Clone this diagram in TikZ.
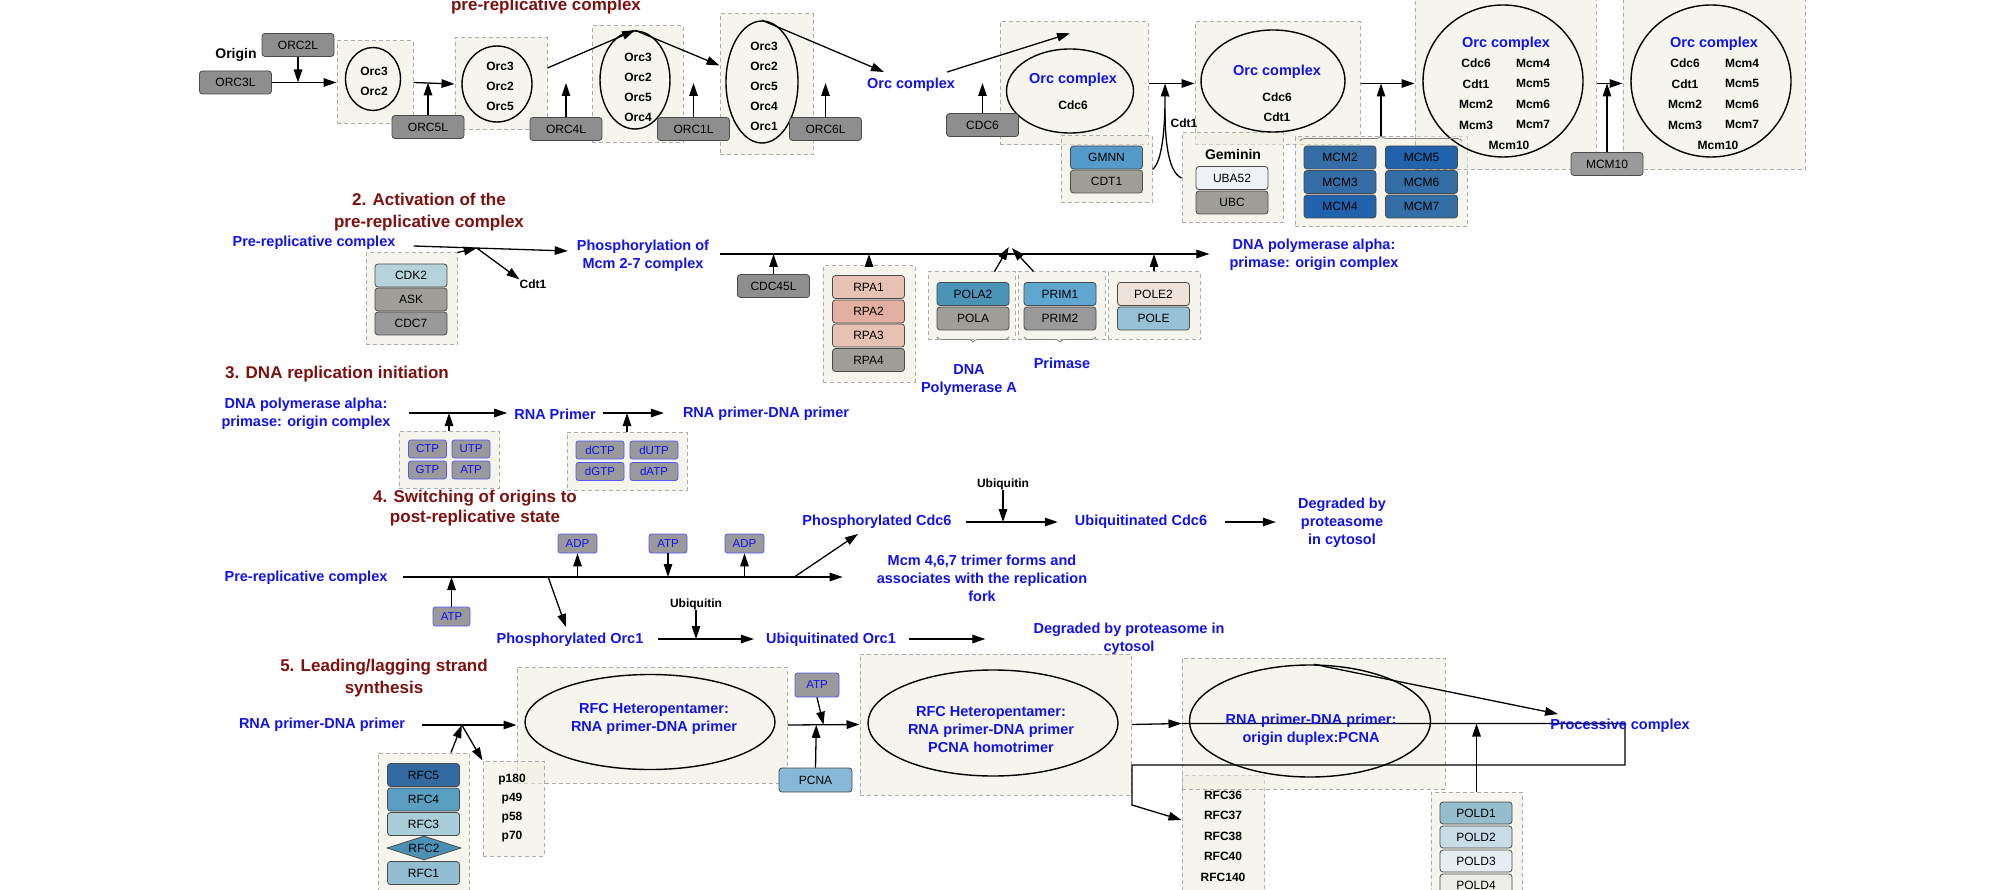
\documentclass[tikz,border=0pt]{standalone}
\usepackage{fontspec}
\setmainfont{Liberation Sans}
\usetikzlibrary{arrows.meta,shapes.geometric,fit,decorations.pathreplacing}
\definecolor{cBlue}{HTML}{1212EE}
\definecolor{cRed}{HTML}{7E1010}
\definecolor{cGrp}{HTML}{EDEDDF}
\definecolor{cDash}{HTML}{ABABAB}
\definecolor{cEdge}{HTML}{4A4A4A}
\definecolor{gOrc}{HTML}{8E8E8E}
\definecolor{gWarm}{HTML}{A09F97}
\definecolor{gMid}{HTML}{9A9A9A}
\definecolor{cGMNN}{HTML}{559BC9}
\definecolor{cUBA}{HTML}{EEF2F6}
\definecolor{cMcmA}{HTML}{346DA6}
\definecolor{cMcmB}{HTML}{2062AC}
\definecolor{cCDK}{HTML}{B6D3DC}
\definecolor{cRPAa}{HTML}{E7C1B3}
\definecolor{cRPAb}{HTML}{E2B0A0}
\definecolor{cPOLA}{HTML}{4C93B8}
\definecolor{cPRIM}{HTML}{5FA6D0}
\definecolor{cPOLEb}{HTML}{EEE1D8}
\definecolor{cPOLE}{HTML}{98C0D6}
\definecolor{cMolE}{HTML}{5555FF}
\definecolor{cRFCv}{HTML}{3169A1}
\definecolor{cRFCiv}{HTML}{5A9EC1}
\definecolor{cRFCiii}{HTML}{A9CDD9}
\definecolor{cRFCii}{HTML}{4A91B6}
\definecolor{cRFCi}{HTML}{93BED1}
\definecolor{cPCNA}{HTML}{88B8D8}
\definecolor{cPDa}{HTML}{96BDCC}
\definecolor{cPDb}{HTML}{C8DCE8}
\definecolor{cPDc}{HTML}{E6EEF2}
\definecolor{cPDd}{HTML}{EEEEE8}
\begin{document}
\begin{tikzpicture}[x=1pt,y=-1pt,
  lbl/.style={font=\fontsize{14.5}{18}\selectfont\bfseries, text=cBlue, align=center, inner sep=0pt},
  ttl/.style={font=\fontsize{17}{22}\selectfont\bfseries, text=cRed, align=center, inner sep=0pt},
  blk/.style={font=\fontsize{12}{20}\selectfont\bfseries, align=center, inner sep=0pt},
  gene/.style={draw=cEdge, line width=0.8pt, rounded corners=3pt, minimum width=72pt, minimum height=23pt, inner sep=0pt, font=\fontsize{12}{14}\selectfont},
  mol/.style={draw=cMolE, line width=0.8pt, fill=gMid, rounded corners=2.5pt, text=cBlue, minimum width=38pt, minimum height=18pt, inner sep=0pt, font=\fontsize{11.5}{13}\selectfont},
  grp/.style={draw=cDash, dash pattern=on 4pt off 3pt, line width=1pt, fill=cGrp, fill opacity=0.55, inner sep=0pt},
  ell/.style={ellipse, draw, line width=1.4pt, inner sep=0pt},
  arr/.style={-{Triangle[length=13pt,width=8.5pt]}, line width=1.3pt},
  ln/.style={line width=1.3pt},
  brc/.style={decorate, decoration={brace, amplitude=5pt}, draw=gray, line width=0.8pt}
]
\useasboundingbox (0,0) rectangle (1996,890);
\coordinate (y83) at (0,83);
% ================= Section 1 =================
\node[grp, fit={(337,41)(413,124)}] (b1) {};
\node[grp, fit={(455,38)(547,130)}] (b2) {};
\node[grp, fit={(592,26)(683,143)}] (b3) {};
\node[grp, fit={(720,14)(813,155)}] (b4) {};
\node[grp, fit={(1000,22)(1148,145)}] (b5) {};
\node[grp, fit={(1061,136)(1152,203)}] (bgm) {};
\node[grp, fit={(1195,22)(1360,145)}] (b7) {};
\node[grp, fit={(1182,133)(1283,223)}] (bgem) {};
\node[grp, fit={(1295,137)(1467,227)}] (bmcm) {};
\node[grp, fit={(1415,-3)(1596,170)}] (b8) {};
\node[grp, fit={(1623,-3)(1805,170)}] (b9) {};

\node[ell, minimum width=55pt, minimum height=63pt] (e1) at (373,79) {};
\node[ell, minimum width=70pt, minimum height=76pt] (e2) at (497,84) {};
\node[ell, minimum width=70pt, minimum height=98pt] (e3) at (635,80) {};
\node[ell, minimum width=72pt, minimum height=122pt] (e4) at (762,82) {};
\node[ell, minimum width=127pt, minimum height=84pt] (e5) at (1070,91) {};
\node[ell, minimum width=144pt, minimum height=102pt] (e6) at (1273,81) {};
\node[ell, minimum width=160pt, minimum height=152pt] (e8) at (1503,81) {};
\node[ell, minimum width=160pt, minimum height=152pt] (e9) at (1711,81) {};

\node[ttl] (t1) at (546,6) {pre-replicative complex};
\node[blk, font=\fontsize{14}{16}\selectfont\bfseries] (origin) at (236,55) {Origin};
\node[blk] (e1t) at (374,81) {Orc3\\Orc2};
\node[blk] (e2t) at (500,86) {Orc3\\Orc2\\Orc5};
\node[blk] (e3t) at (638,87) {Orc3\\Orc2\\Orc5\\Orc4};
\node[blk] (e4t) at (764,86) {Orc3\\Orc2\\Orc5\\Orc4\\Orc1};
\node[lbl] (orccx) at (911,85) {Orc complex};
\node[lbl] (e5a) at (1073,80) {Orc complex};
\node[blk] (e5b) at (1073,105) {Cdc6};
\node[blk] (cdtl) at (1184,123) {Cdt1};
\node[lbl] (e6a) at (1277,72) {Orc complex};
\node[blk] (e6b) at (1277,107) {Cdc6\\Cdt1};
\node[blk, font=\fontsize{14}{16}\selectfont\bfseries] (gemlbl) at (1233,154) {Geminin};
\node[lbl] (e8a) at (1506,44) {Orc complex};
\node[blk, font=\fontsize{12}{20.5}\selectfont\bfseries] (e8l) at (1476,94) {Cdc6\\Cdt1\\Mcm2\\Mcm3};
\node[blk, font=\fontsize{12}{20.5}\selectfont\bfseries] (e8r) at (1533,94) {Mcm4\\Mcm5\\Mcm6\\Mcm7};
\node[blk] (e8m) at (1509,145) {Mcm10};
\node[lbl] (e9a) at (1714,44) {Orc complex};
\node[blk, font=\fontsize{12}{20.5}\selectfont\bfseries] (e9l) at (1685,94) {Cdc6\\Cdt1\\Mcm2\\Mcm3};
\node[blk, font=\fontsize{12}{20.5}\selectfont\bfseries] (e9r) at (1742,94) {Mcm4\\Mcm5\\Mcm6\\Mcm7};
\node[blk] (e9m) at (1718,145) {Mcm10};

\node[gene, fill=gOrc] (orc2l) at (298,45) {ORC2L};
\node[gene, fill=gOrc] (orc3l) at (235.5,82.5) {ORC3L};
\node[gene, fill=gOrc] (orc5l) at (428,127) {ORC5L};
\node[gene, fill=gOrc] (orc4l) at (566,129) {ORC4L};
\node[gene, fill=gOrc] (orc1l) at (693.5,129) {ORC1L};
\node[gene, fill=gOrc] (orc6l) at (825.5,129) {ORC6L};
\node[gene, fill=gOrc] (cdc6) at (982.5,125) {CDC6};
\node[gene, fill=cGMNN] (gmnn) at (1106.5,157.5) {GMNN};
\node[gene, fill=gWarm] (cdt1) at (1106.5,181.5) {CDT1};
\node[gene, fill=cUBA] (uba52) at (1232,178) {UBA52};
\node[gene, fill=gWarm] (ubc) at (1232,202.5) {UBC};
\node[gene, fill=cMcmA] (mcm2) at (1340,157.5) {MCM2};
\node[gene, fill=cMcmB] (mcm5) at (1421.5,157.5) {MCM5};
\node[gene, fill=cMcmA] (mcm3) at (1340,182) {MCM3};
\node[gene, fill=cMcmA] (mcm6) at (1421.5,182) {MCM6};
\node[gene, fill=cMcmB] (mcm4) at (1340,206.5) {MCM4};
\node[gene, fill=cMcmA] (mcm7) at (1421.5,206.5) {MCM7};
\node[gene, fill=gMid] (mcm10) at (1607,164) {MCM10};

\draw[arr] (orc3l.east) -- (orc3l.east -| b1.west);
\draw[arr] (orc2l.south) -- (orc2l.south |- orc3l.east);
\draw[arr] (b1.east) -- (b2.west);
\draw[arr] (orc5l.north) -- (orc5l.north |- b1.east);
\draw[arr] ([yshift=16pt]b2.east) -- (e3.north);
\draw[arr] (e3.north) -- ([yshift=19pt]b4.west);
\draw[arr] (orc4l.north) -- (orc4l.north |- y83);
\draw[arr] (orc1l.north) -- (orc1l.north |- y83);
\draw[arr] (e4.north) -- ([xshift=-27pt,yshift=6pt]orccx.north);
\draw[arr] (orc6l.north) -- (orc6l.north |- y83);
\draw[arr] ([xshift=36pt,yshift=6pt]orccx.north) -- ([yshift=15pt]e5.north);
\draw[arr] (cdc6.north) -- (cdc6.north |- y83);
\draw[arr] (b5.east) -- coordinate[pos=0.36] (jc) (b7.west);
\draw[ln] (bgem.west) .. controls (1168,172) and (1165,140) .. (1165,110);
\draw[arr] (bgm.east) .. controls (1162,162) and (1165,130) .. (jc);
\draw[brc] (1300,141) -- (1462,141);
\draw[arr] (bmcm.north) -- (bmcm.north |- b7.east);
\draw[arr] (b7.east) -- (b8.west);
\draw[arr] (b8.east) -- (b9.west);
\draw[arr] (mcm10.north) -- (mcm10.north |- b8.east);

% ================= Section 2 =================
\coordinate (L2) at (0,254);
\node[ttl] (t2) at (429,212) {2. Activation of the\\pre-replicative complex};
\node[lbl] (prc2) at (314,243) {Pre-replicative complex};
\node[lbl] (phos) at (643,255.5) {Phosphorylation of\\Mcm 2-7 complex};
\node[lbl] (dnap2) at (1314,255) {DNA polymerase alpha:\\primase: origin complex};
\node[blk] (cdtb) at (533,284) {Cdt1};
\node[grp, fit={(366,253)(457,345)}] (bcdk) {};
\node[gene, fill=cCDK] (cdk2) at (411,275.5) {CDK2};
\node[gene, fill=gWarm] (ask) at (411,299.5) {ASK};
\node[gene, fill=gMid] (cdc7) at (411,323.5) {CDC7};
\draw[arr] ([xshift=18pt,yshift=-3pt]prc2.east) -- coordinate[pos=0.41] (j2) ([xshift=-9pt,yshift=4.5pt]phos.west);
\draw[arr] (bcdk.north east) -- (j2);
\draw[arr] (j2) -- (cdtb.north west);

\node[gene, fill=gOrc] (cdc45l) at (773.5,286) {CDC45L};
\node[grp, fit={(823,266)(915,382)}] (brpa) {};
\node[gene, fill=cRPAa] (rpa1) at (868.5,287) {RPA1};
\node[gene, fill=cRPAb] (rpa2) at (868.5,311.5) {RPA2};
\node[gene, fill=cRPAa] (rpa3) at (868.5,335.5) {RPA3};
\node[gene, fill=gWarm] (rpa4) at (868.5,360) {RPA4};
\node[grp, fit={(928,272)(1015,340)}] (bpola) {};
\node[gene, fill=cPOLA] (pola2) at (973,294) {POLA2};
\node[gene, fill=gWarm] (pola) at (973,318.5) {POLA};
\node[grp, fit={(1018,272)(1105,340)}] (bprim) {};
\node[gene, fill=cPRIM] (prim1) at (1060,294) {PRIM1};
\node[gene, fill=gMid] (prim2) at (1060,318.5) {PRIM2};
\node[grp, fit={(1108,272)(1200,340)}] (bpole) {};
\node[gene, fill=cPOLEb] (pole2) at (1153.5,294) {POLE2};
\node[gene, fill=cPOLE] (pole) at (1153.5,318.5) {POLE};
\draw[brc] (1009,337) -- (937,337);
\draw[brc] (1096,337) -- (1024,337);
\node[lbl] (dnapa) at (969,380.5) {DNA\\Polymerase A};
\node[lbl] (primase) at (1062,363) {Primase};
\draw[arr] ([xshift=11pt,yshift=1.5pt]phos.east) -- coordinate[pos=0.59] (jp) ([xshift=-20pt,yshift=1pt]dnap2.west);
\draw[arr] (cdc45l.north) -- (cdc45l.north |- L2);
\draw[arr] (brpa.north) -- (brpa.north |- L2);
\draw[arr] ([xshift=-21pt]bpola.north east) -- ([yshift=7pt]jp);
\draw[arr] ([xshift=16pt]bprim.north west) -- ([xshift=3pt,yshift=6pt]jp);
\draw[arr] (bpole.north) -- (bpole.north |- L2);

% ================= Section 3 =================
\node[ttl] (t3) at (337,374) {3. DNA replication initiation};
\node[lbl] (dnap3) at (306,414) {DNA polymerase alpha:\\primase: origin complex};
\node[lbl] (rnap) at (555,414) {RNA Primer};
\node[lbl] (rdp3) at (766,414) {RNA primer-DNA primer};
\node[grp, fit={(399,431)(499,488)}] (bntp) {};
\node[mol] (ctp) at (427.5,449) {CTP};
\node[mol] (utp) at (471,449) {UTP};
\node[mol] (gtp) at (427.5,470) {GTP};
\node[mol] (atpc) at (471,470) {ATP};
\node[grp, fit={(567,432)(687,490)}] (bdntp) {};
\node[mol, minimum width=48pt] (dctp) at (600,450) {dCTP};
\node[mol, minimum width=48pt] (dutp) at (654,450) {dUTP};
\node[mol, minimum width=48pt] (dgtp) at (600,471.5) {dGTP};
\node[mol, minimum width=48pt] (datp) at (654,471.5) {dATP};
\draw[arr] ([xshift=18pt,yshift=1pt]dnap3.east) -- ([xshift=-7pt,yshift=1pt]rnap.west);
\draw[arr] (bntp.north) -- ([yshift=1pt]bntp.north |- rnap.west);
\draw[arr] ([xshift=7pt,yshift=1pt]rnap.east) -- ([xshift=-19pt,yshift=1pt]rdp3.west);
\draw[arr] (bdntp.north) -- ([yshift=1pt]bdntp.north |- rnap.east);

% ================= Section 4 =================
\coordinate (L4) at (0,577);
\node[ttl, font=\fontsize{17}{20}\selectfont\bfseries] (t4) at (475,508) {4. Switching of origins to\\post-replicative state};
\node[lbl] (prc4) at (306,578) {Pre-replicative complex};
\node[lbl] (mcm467) at (982,578.5) {Mcm 4,6,7 trimer forms and\\associates with the replication\\fork};
\draw[arr] ([xshift=15.5pt,yshift=1pt]prc4.east) -- coordinate[pos=0.33] (j4a) coordinate[pos=0.89] (j4b) ([xshift=-34pt,yshift=1.5pt]mcm467.west);
\node[mol, minimum width=37pt, minimum height=19pt] (atpd) at (451.5,616.5) {ATP};
\node[mol, minimum width=39pt, minimum height=19pt] (adpa) at (577.5,543.5) {ADP};
\node[mol, minimum width=38pt, minimum height=19pt] (atpe) at (668,543.5) {ATP};
\node[mol, minimum width=39pt, minimum height=19pt] (adpb) at (744.5,543.5) {ADP};
\draw[arr] (atpd.north) -- (atpd.north |- L4);
\draw[arr] (adpa.south |- L4) -- (adpa.south);
\draw[arr] (atpe.south) -- (atpe.south |- L4);
\draw[arr] (adpb.south |- L4) -- (adpb.south);
\node[lbl] (porc1) at (570,640) {Phosphorylated Orc1};
\draw[arr] (j4a) -- ([xshift=-4pt,yshift=6pt]porc1.north);
\node[lbl] (pcdc6) at (877,522) {Phosphorylated Cdc6};
\draw[arr] (j4b) -- ([xshift=-19pt,yshift=-5pt]pcdc6.south);
\node[lbl] (ucdc6) at (1141,522) {Ubiquitinated Cdc6};
\node[blk] (uba) at (1003,484) {Ubiquitin};
\draw[arr] ([xshift=14pt]pcdc6.east) -- ([xshift=-17pt]ucdc6.west);
\draw[arr] (uba.south) -- (uba.south |- pcdc6.east);
\node[lbl] (deg1) at (1342,523) {Degraded by\\proteasome\\in cytosol};
\draw[arr] ([xshift=18pt]ucdc6.east) -- ([xshift=-22pt,yshift=1pt]deg1.west);
\node[lbl] (uorc1) at (831,640) {Ubiquitinated Orc1};
\node[blk] (ubb) at (696,604) {Ubiquitin};
\draw[arr] ([xshift=14pt,yshift=1pt]porc1.east) -- ([xshift=-12pt,yshift=1pt]uorc1.west);
\draw[arr] (ubb.south) -- ([yshift=1pt]ubb.south |- uorc1.west);
\node[lbl] (deg2) at (1129,639) {Degraded by proteasome in\\cytosol};
\draw[arr] ([xshift=13pt,yshift=1pt]uorc1.east) -- ([xshift=-48pt]deg2.west);

% ================= Section 5 =================
\node[ttl] (t5) at (384,678) {5. Leading/lagging strand\\synthesis};
\node[lbl] (rdp5) at (322,725) {RNA primer-DNA primer};
\node[grp, fit={(517,667)(787,783)}] (b10) {};
\node[grp, fit={(378,753)(469,898)}] (brfc) {};
\node[grp, fit={(483,761)(544,856)}] (bp) {};
\node[grp, fit={(860,654)(1131,795)}] (b11) {};
\node[grp, fit={(1182,775)(1264,898)}] (brfcs) {};
\node[grp, fit={(1182,658)(1445,789)}] (b12) {};
\node[grp, fit={(1431,792)(1522,898)}] (bpold) {};

\node[ell, minimum width=250pt, minimum height=95pt] (e10) at (650,722) {};
\node[lbl] (e10t) at (654,718.5) {RFC Heteropentamer:\\RNA primer-DNA primer};
\node[ell, minimum width=250pt, minimum height=106pt] (e11) at (993,723) {};
\node[lbl] (e11t) at (991,730) {RFC Heteropentamer:\\RNA primer-DNA primer\\PCNA homotrimer};
\node[ell, minimum width=241pt, minimum height=112pt] (e12) at (1310,721) {};

\node[gene, fill=cRFCv] (rfc5) at (423.5,775) {RFC5};
\node[gene, fill=cRFCiv] (rfc4) at (423.5,799.5) {RFC4};
\node[gene, fill=cRFCiii] (rfc3) at (423.5,824) {RFC3};
\node[diamond, draw=cEdge, line width=0.8pt, fill=cRFCii, aspect=3, minimum width=74pt, minimum height=24pt, inner sep=0pt, font=\fontsize{12}{14}\selectfont] (rfc2) at (424,848) {RFC2};
\node[gene, fill=cRFCi] (rfc1) at (423.5,873) {RFC1};
\node[blk, font=\fontsize{12}{19}\selectfont\bfseries] (pt) at (512,808.5) {p180\\p49\\p58\\p70};

\draw[arr] ([xshift=17pt]rdp5.east) -- coordinate[pos=0.42] (j5) (b10.west);
\draw[arr] ([xshift=27.5pt]brfc.north) -- (j5);
\draw[arr] (j5) -- (bp.north west);

\node[mol, minimum width=44pt, minimum height=24pt] (atpf) at (817,685) {ATP};
\node[gene, fill=cPCNA, minimum width=73pt, minimum height=24pt] (pcna) at (815.5,780) {PCNA};
\draw[arr] (b10.east) -- coordinate[pos=0.5] (j5b) coordinate[pos=0.4] (j5c) (b11.west);
\draw[arr] (atpf.south) -- (j5b);
\draw[arr] (pcna.north) -- (j5c);

\node[blk, font=\fontsize{12}{20.5}\selectfont\bfseries] (rfcst) at (1223,836) {RFC36\\RFC37\\RFC38\\RFC40\\RFC140};
\node[gene, fill=cPDa, minimum height=22pt] (pold1) at (1476,813) {POLD1};
\node[gene, fill=cPDb, minimum height=22pt] (pold2) at (1476,837) {POLD2};
\node[gene, fill=cPDc, minimum height=22pt] (pold3) at (1476,861) {POLD3};
\node[gene, fill=cPDd, minimum height=22pt] (pold4) at (1476,885) {POLD4};

\draw[arr] (b11.east) -- (b12.west);
\draw[arr] (b12.west) -- (1625,723.5) -- (1625,765) -- (1132,765) -- (1132,805) -- ([yshift=16.5pt]brfcs.west);
\draw[arr] (bpold.north) -- (bpold.north |- b12.west);
\node[lbl] (e12t) at (1311,729.5) {RNA primer-DNA primer:\\origin duplex:PCNA};
\node[lbl] (proc) at (1620,726) {Processive complex};
\draw[arr] ([xshift=4pt]e12.north) -- ([xshift=8pt,yshift=5pt]proc.north west);
\end{tikzpicture}
\end{document}
